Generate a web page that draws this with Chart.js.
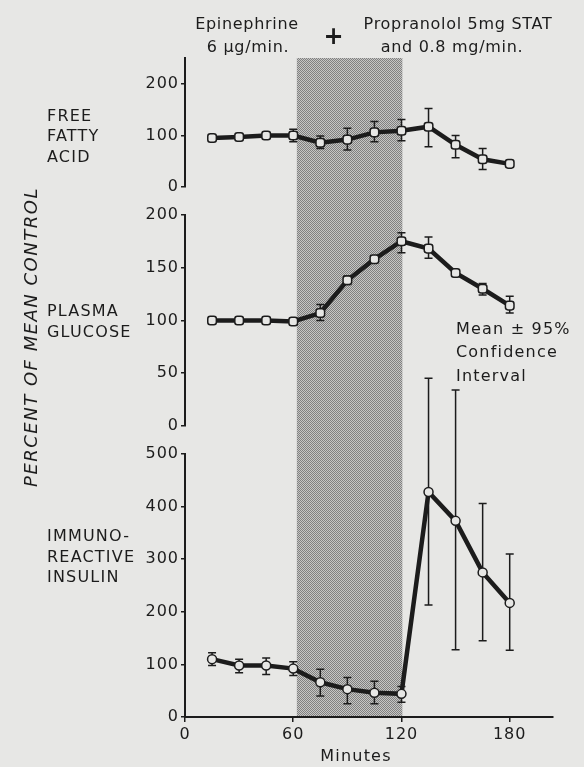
<!DOCTYPE html>
<html>
<head>
<meta charset="utf-8">
<script src="https://cdn.jsdelivr.net/npm/chart.js@4/dist/chart.umd.min.js"></script>
<style>
  html, body { margin: 0; padding: 0; background: #e7e7e5; }
  #grafico { display: block; }
</style>
</head>
<body>
<canvas id="grafico" width="584" height="767"></canvas>
<script>
// minutos de coleta
const minutos = [15, 30, 45, 60, 75, 90, 105, 120, 135, 150, 165, 180];

// acidos graxos livres (% da media controle)
const ffaMedia = [95, 97, 100, 100, 86, 92, 106, 109, 117, 82, 54, 45];
const ffaBaixo = [null, null, null, 88, 75, 72, 88, 90, 78, 57, 34, null];
const ffaAlto  = [null, null, null, 112, 99, 114, 127, 131, 152, 100, 75, null];

// glicose plasmatica
const gluMedia = [100, 100, 100, 99, 107, 138, 158, 175, 168, 145, 130, 114];
const gluBaixo = [null, null, null, null, 100, 134, 156, 164, 159, 143, 124, 107];
const gluAlto  = [null, null, null, null, 115, 142, 160, 183, 179, 147, 135, 123];

// insulina imunorreativa
const insMedia = [110, 98, 98, 92, 66, 53, 46, 44, 428, 373, 275, 217];
const insBaixo = [98, 84, 81, 79, 40, 25, 25, 28, 213, 128, 145, 127];
const insAlto  = [122, 110, 112, 105, 91, 75, 68, 58, 644, 622, 406, 310];

// periodo da infusao de epinefrina (faixa sombreada), em minutos
const infusao = [62, 120.5];

// ticks
const ticksX = [0, 60, 120, 180];
const ticksFfa = [0, 100, 200];
const ticksGlu = [0, 50, 100, 150, 200];
const ticksIns = [0, 100, 200, 300, 400, 500];

const tinta = '#1c1c1c';
const papel = '#e7e7e5';
const fonte = '"DejaVu Sans", sans-serif';

// padrao pontilhado da faixa
const tela = document.createElement('canvas');
tela.width = 2; tela.height = 2;
const tctx = tela.getContext('2d');
tctx.fillStyle = '#c6c6c4'; tctx.fillRect(0, 0, 2, 2);
tctx.fillStyle = '#808080'; tctx.fillRect(0, 0, 1, 1); tctx.fillRect(1, 1, 1, 1);
const padrao = tctx.createPattern(tela, 'repeat');

function serie(valores, eixo, ponto) {
    return {
        data: minutos.map((m, i) => ({ x: m, y: valores[i] })),
        yAxisID: eixo,
        borderColor: tinta,
        borderWidth: 4.5,
        tension: 0,
        pointStyle: ponto,
        pointRadius: ponto === 'circle' ? 4.5 : 5,
        pointBackgroundColor: papel,
        pointBorderColor: tinta,
        pointBorderWidth: 1.5
    };
}

const barras = [
    [ffaBaixo, ffaAlto],
    [gluBaixo, gluAlto],
    [insBaixo, insAlto]
];

function eixoY(ticks, max) {
    return {
        type: 'linear',
        position: 'left',
        stack: 'painel',
        stackWeight: 1,
        min: 0,
        max: max,
        afterFit: (s) => { s.width = 45; },
        afterBuildTicks: (s) => { s.ticks = ticks.map(v => ({ value: v })); },
        grid: { display: true, drawOnChartArea: false, drawTicks: true, tickLength: 4, color: tinta, lineWidth: 1.5 },
        border: { display: true, color: tinta, width: 2 },
        ticks: { color: tinta, font: { family: fonte, size: 16 }, padding: 2 }
    };
}

function vazio() {
    return {
        type: 'linear',
        position: 'left',
        stack: 'painel',
        afterFit: (s) => { s.width = 45; },
        grid: { display: false },
        border: { display: false },
        ticks: { display: false }
    };
}

const decoracao = {
    id: 'decoracao',
    beforeDraw(chart) {
        const { ctx, chartArea, scales } = chart;
        const x0 = scales.x.getPixelForValue(infusao[0]);
        const x1 = scales.x.getPixelForValue(infusao[1]);
        ctx.save();
        ctx.fillStyle = padrao;
        ctx.fillRect(x0, chartArea.top, x1 - x0, chartArea.bottom - chartArea.top);
        ctx.restore();
        ctx.letterSpacing = '1px';
    },
    beforeDatasetsDraw(chart) {
        const { ctx, scales } = chart;
        ctx.save();
        ctx.strokeStyle = tinta;
        ctx.lineWidth = 1.5;
        chart.data.datasets.forEach((ds, k) => {
            const ey = scales[ds.yAxisID];
            const [baixo, alto] = barras[k];
            minutos.forEach((m, i) => {
                if (baixo[i] == null) return;
                const px = scales.x.getPixelForValue(m);
                const y0 = ey.getPixelForValue(baixo[i]);
                const y1 = ey.getPixelForValue(alto[i]);
                ctx.beginPath();
                ctx.moveTo(px, y0); ctx.lineTo(px, y1);
                ctx.moveTo(px - 4, y0); ctx.lineTo(px + 4, y0);
                ctx.moveTo(px - 4, y1); ctx.lineTo(px + 4, y1);
                ctx.stroke();
            });
        });
        ctx.restore();
    },
    afterDraw(chart) {
        const { ctx } = chart;
        ctx.save();
        ctx.fillStyle = tinta;
        ctx.textBaseline = 'middle';

        ctx.font = '16px ' + fonte;
        ctx.letterSpacing = '0.7px';
        ctx.textAlign = 'center';
        ctx.fillText('Epinephrine', 247, 25);
        ctx.fillText('6 µg/min.', 248, 48);
        ctx.fillText('Propranolol 5mg STAT', 458, 25);
        ctx.fillText('and 0.8 mg/min.', 452, 48);
        ctx.font = 'bold 24px ' + fonte;
        ctx.fillText('+', 334, 38);

        ctx.font = '16px ' + fonte;
        ctx.letterSpacing = '1.2px';
        ctx.textAlign = 'left';
        [['FREE', 117], ['FATTY', 137], ['ACID', 158],
         ['PLASMA', 312], ['GLUCOSE', 333],
         ['IMMUNO-', 537], ['REACTIVE', 558], ['INSULIN', 578]]
            .forEach(([t, y]) => ctx.fillText(t, 47, y));

        ctx.fillText('Mean ± 95%', 456, 330);
        ctx.fillText('Confidence', 456, 353);
        ctx.fillText('Interval', 456, 377);

        ctx.textAlign = 'center';
        ctx.fillText('Minutes', 356, 757);

        ctx.font = 'italic 18px ' + fonte;
        ctx.letterSpacing = '1.5px';
        ctx.translate(32, 337);
        ctx.rotate(-Math.PI / 2);
        ctx.fillText('PERCENT OF MEAN CONTROL', 0, 0);
        ctx.restore();
        ctx.letterSpacing = '0px';
    }
};

const config = {
    type: 'line',
    data: {
        datasets: [
            serie(ffaMedia, 'yFfa', 'rectRounded'),
            serie(gluMedia, 'yGlu', 'rectRounded'),
            serie(insMedia, 'yIns', 'circle')
        ]
    },
    options: {
        responsive: false,
        animation: false,
        events: [],
        layout: { padding: { left: 140, right: 31, top: 58, bottom: 0 } },
        plugins: { legend: { display: false }, tooltip: { enabled: false } },
        scales: {
            x: {
                type: 'linear',
                min: 0,
                max: 204,
                afterFit: (s) => { s.height = 50; },
                afterBuildTicks: (s) => { s.ticks = ticksX.map(v => ({ value: v })); },
                grid: { display: true, drawOnChartArea: false, drawTicks: true, tickLength: 5, color: tinta, lineWidth: 1.5 },
                border: { display: true, color: tinta, width: 2 },
                ticks: { color: tinta, font: { family: fonte, size: 16 }, padding: 3, maxRotation: 0 }
            },
            yIns: Object.assign(eixoY(ticksIns, 500), { stackWeight: 262.7 }),
            gap2: Object.assign(vazio(), { stackWeight: 28 }),
            yGlu: Object.assign(eixoY(ticksGlu, 200), { stackWeight: 211 }),
            gap1: Object.assign(vazio(), { stackWeight: 27.7 }),
            yFfa: Object.assign(eixoY(ticksFfa, 250), { stackWeight: 129 })
        }
    },
    plugins: [decoracao]
};

const grafico = new Chart(document.getElementById('grafico'), config);
</script>
</body>
</html>
